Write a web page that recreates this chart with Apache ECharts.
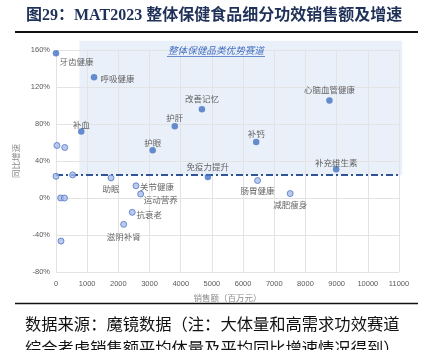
<!DOCTYPE html>
<html><head><meta charset="utf-8">
<script src="https://cdn.jsdelivr.net/npm/echarts@6/dist/echarts.min.js"></script>
<style>html,body{margin:0;padding:0;background:#fff;}#c{width:429px;height:350px;}</style>
</head><body><div id="c"></div>
<script>
// ---- data ----
const titleText = '图29：MAT2023 整体保健食品细分功效销售额及增速';
const noteLine1 = '数据来源：魔镜数据（注：大体量和高需求功效赛道';
const noteLine2 = '综合考虑销售额平均体量及平均同比增速情况得到）';
const xAxisName = '销售额（百万元）';
const yAxisName = '同比增速';
const zoneName = '整体保健品类优势赛道';

// advantage segments (dark points)
const advNames  = ['牙齿健康','呼吸健康','补血','护眼','护肝','改善记忆','心脑血管健康','补钙','补充维生素','免疫力提升'];
const advSales  = [0, 1220, 810, 3100, 3810, 4680, 8770, 6420, 8985, 4870];
const advGrowth = [156.5, 130.5, 72, 51.5, 77.5, 96, 105.5, 60.5, 31, 22.8];

// other segments (light points)
const othNames  = ['助眠','关节健康','运动营养','抗衰老','滋阴补肾','肠胃健康','减肥瘦身','美容养颜','','','','','','',''];
const othSales  = [1765, 2565, 2715, 2445, 2170, 6465, 7510, 11015, 0, 535, 150, 270, 160, 30, 280];
const othGrowth = [21.7, 13.2, 4.3, -15.5, -28.5, 18.9, 4.8, 2.6, 23.5, 25, 0, 0, -46.6, 56.8, 54.6];

// reference line (average growth) and advantage zone bounds
const avgGrowth = 24.6;
const zoneSales = [750, 11100];
const zoneGrowth = [24.6, 170];
const zoneLabelAt = [5130, 160];

// axis ticks
const xMin = 0, xMax = 11000, xStep = 1000;
const yMin = -80, yMax = 160, yStep = 40;

// ---- styles ----
const labelOffsets = {
  '牙齿健康':[20.5,8.5], '呼吸健康':[23.5,1], '补血':[0,-7], '护眼':[0,-8], '护肝':[0,-9],
  '改善记忆':[0,-10], '心脑血管健康':[0,-11], '补钙':[0,-8], '补充维生素':[0,-7], '免疫力提升':[0,-10],
  '助眠':[0,11], '关节健康':[21,1], '运动营养':[20,6], '抗衰老':[17,2], '滋阴补肾':[0,12],
  '肠胃健康':[0,10], '减肥瘦身':[0,11], '美容养颜':[0,12]
};
const labelFont = {fontFamily:'Noto Sans CJK SC', fontSize:8.5, color:'#404040'};

function build(names, xs, ys) {
  return names.map((n, i) => ({
    value: [xs[i], ys[i]],
    name: n,
    label: n ? {show:true, position:'inside', offset: labelOffsets[n] || [0,0], formatter: n, ...labelFont} : {show:false}
  }));
}

const chart = echarts.init(document.getElementById('c'), null, {renderer:'canvas'});
const axisLabelStyle = {fontFamily:'Liberation Sans', fontSize:7.5, color:'#595959'};
const axisNameStyle = {fontFamily:'Noto Sans CJK SC', fontSize:8.5, color:'#8c8c8c'};

chart.setOption({
  animation:false,
  grid:{left:56, right:30, top:50, bottom:78, containLabel:false},
  xAxis:{type:'value', min:xMin, max:xMax, interval:xStep,
    name:xAxisName, nameLocation:'middle', nameGap:22, nameTextStyle:axisNameStyle,
    axisLine:{show:false}, axisTick:{show:false},
    axisLabel:{...axisLabelStyle, margin:8, formatter: v => String(v)},
    splitLine:{show:true, lineStyle:{color:'#e3e3e3', width:1}}},
  yAxis:{type:'value', min:yMin, max:yMax, interval:yStep,
    name:yAxisName, nameLocation:'middle', nameGap:27, nameRotate:90, nameTextStyle:axisNameStyle,
    axisLine:{show:false}, axisTick:{show:false},
    axisLabel:{...axisLabelStyle, margin:6, formatter: v => v + '%'},
    splitLine:{show:true, lineStyle:{color:'#e3e3e3', width:1}}},
  series:[
    {type:'scatter', name:'others', symbolSize:6, z:3,
     itemStyle:{color:'#a9bde8', borderColor:'#4f75c8', borderWidth:1},
     data: build(othNames, othSales, othGrowth),
     markLine:{silent:true, symbol:'none', label:{show:false}, z:2,
       lineStyle:{color:'#2f5597', width:1.8, type:[7,3,2,3]},
       data:[{yAxis:avgGrowth}]}},
    {type:'scatter', name:'advantage', symbolSize:6.5, z:4,
     itemStyle:{color:'#4472c4'},
     data: build(advNames, advSales, advGrowth)}
  ]
});

const tl = chart.convertToPixel({gridIndex:0}, [zoneSales[0], zoneGrowth[1]]);
const br = chart.convertToPixel({gridIndex:0}, [zoneSales[1], zoneGrowth[0]]);
const zl = chart.convertToPixel({gridIndex:0}, zoneLabelAt);

chart.setOption({
  graphic:[
    {type:'rect', z:-10, silent:true, shape:{x:tl[0], y:tl[1], width:br[0]-tl[0], height:br[1]-tl[1]},
     style:{fill:'rgba(68,114,196,0.11)'}},
    {type:'text', z:10, x:zl[0], y:zl[1], style:{text:zoneName, fontFamily:'Noto Sans CJK SC', fontSize:9.6,
      fontStyle:'italic', fill:'#4472c4', align:'center', verticalAlign:'middle'}},
    {type:'line', z:10, shape:{x1:zl[0]-49, y1:zl[1]+6.5, x2:zl[0]+49, y2:zl[1]+6.5}, style:{stroke:'#4472c4', lineWidth:0.8}},
    {type:'text', x:26, y:15.5, style:{text:titleText, fontFamily:'Liberation Serif, Noto Sans CJK SC', fontSize:16,
      fontWeight:'bold', fill:'#1f3158', align:'left', verticalAlign:'middle'}},
    {type:'line', shape:{x1:15, y1:32, x2:418, y2:32}, style:{stroke:'#111', lineWidth:2}},
    {type:'line', shape:{x1:15, y1:303.5, x2:418, y2:303.5}, style:{stroke:'#111', lineWidth:1.5}},
    {type:'text', x:25, y:323.5, style:{text:noteLine1, fontFamily:'Noto Sans CJK SC', fontSize:16.3,
      fill:'#111', align:'left', verticalAlign:'middle'}},
    {type:'text', x:25, y:347.5, style:{text:noteLine2, fontFamily:'Noto Sans CJK SC', fontSize:16.3,
      fill:'#111', align:'left', verticalAlign:'middle'}}
  ]
});
</script></body></html>
